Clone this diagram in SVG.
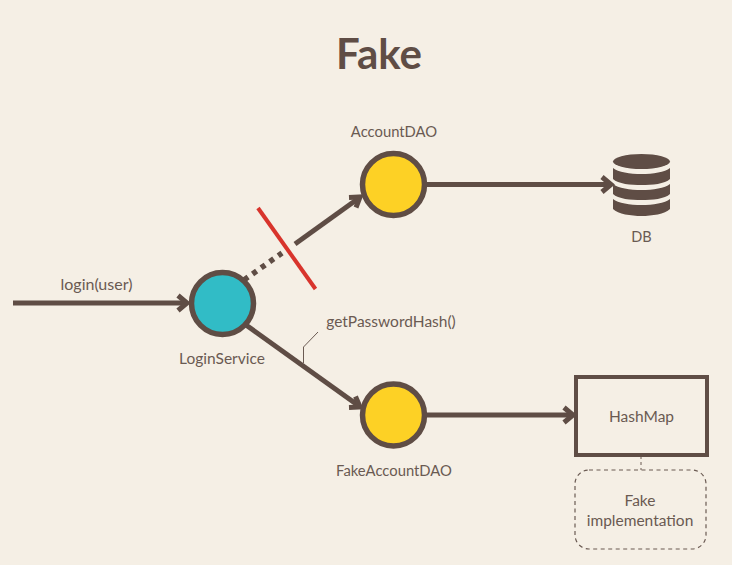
<svg xmlns="http://www.w3.org/2000/svg" width="732" height="565" viewBox="0 0 732 565">
<defs>
<style>
text{font-family:"Lato","Carlito","Liberation Sans",sans-serif;fill:#6a5a52;font-size:15.5px;text-anchor:middle}
.title{font-size:42px;font-weight:700;fill:#5f4d45}
.node{stroke:#5f4d45;stroke-width:5.500}
.edge{fill:none;stroke:#5f4d45;stroke-width:5}
.head{fill:none;stroke:#5f4d45;stroke-width:5;stroke-linejoin:miter}
.db{fill:#5f4d45}
</style>
</defs>
<rect width="732" height="565" fill="#f5efe5"/>
<text class="title" x="379" y="69">Fake</text>
<g id="connectors">
<path class="edge" d="M13 303H186"/><path class="head" d="M178 295.500L187 303L178 310.500"/>
<path class="edge" d="M295 244L359 198"/><path class="head" d="M349 197.500L360 197L356 207.500"/>
<path class="edge" d="M244 280L282 253" stroke-dasharray="5 5.500" style="stroke-width:5.500"/>
<path class="edge" d="M246 325L359 406"/><path class="head" d="M349 407.500L360 407L355.500 396.500"/>
<path class="edge" d="M426 184.500H610"/><path class="head" d="M602 177L611 184.500L602 192"/>
<path class="edge" d="M426 415H572"/><path class="head" d="M564 407.500L573 415L564 422.500"/>
<path fill="none" stroke="#6a5a52" stroke-width="1" d="M303.500 363V347L318 332"/>
<path fill="none" stroke="#6a5a52" stroke-width="1" stroke-dasharray="3 3" d="M641 456V470"/>
<path fill="none" stroke="#d8342c" stroke-width="4" d="M258 208L315.500 289"/>
</g>
<g id="login-label"><text x="96.500" y="290" style="font-size:16px">login(user)</text></g>
<g id="LoginService"><circle class="node" cx="222.500" cy="303.500" r="31" fill="#31bcc6"/><text x="222" y="364">LoginService</text></g>
<g id="AccountDAO"><circle class="node" cx="393.500" cy="184.500" r="31" fill="#fdd125"/><text x="394" y="137" style="font-size:14.800px">AccountDAO</text></g>
<g id="FakeAccountDAO"><circle class="node" cx="393.500" cy="415" r="31" fill="#fdd125"/><text x="394" y="476" style="font-size:14.800px">FakeAccountDAO</text></g>
<g id="call-label"><text x="391" y="327">getPasswordHash()</text></g>
<g id="DB">
<ellipse class="db" cx="641.500" cy="161.500" rx="28.500" ry="7.500"/>
<path class="db" d="M613 168C618 172 630 174 641.500 174S665 172 670 168V179C665 184 652 185 641.500 185S618 184 613 179Z"/>
<path class="db" d="M613 184C618 188 630 190 641.500 190S665 188 670 184V194C665 199 652 200 641.500 200S618 199 613 194Z"/>
<path class="db" d="M613 199C618 203 630 205 641.500 205S665 203 670 199V209C665 214 652 216 641.500 216S618 214 613 209Z"/>
<text x="641.500" y="242" style="font-size:14.500px">DB</text>
</g>
<g id="HashMap"><rect x="576" y="377" width="131" height="78" fill="none" stroke="#5f4d45" stroke-width="4"/><text x="641.500" y="422">HashMap</text></g>
<g id="Fake-note"><rect x="575" y="470" width="131" height="79" rx="14" fill="none" stroke="#6a5a52" stroke-width="1.200" stroke-dasharray="4 3.500"/><text x="640" y="506">Fake</text><text x="640" y="526">implementation</text></g>
</svg>
